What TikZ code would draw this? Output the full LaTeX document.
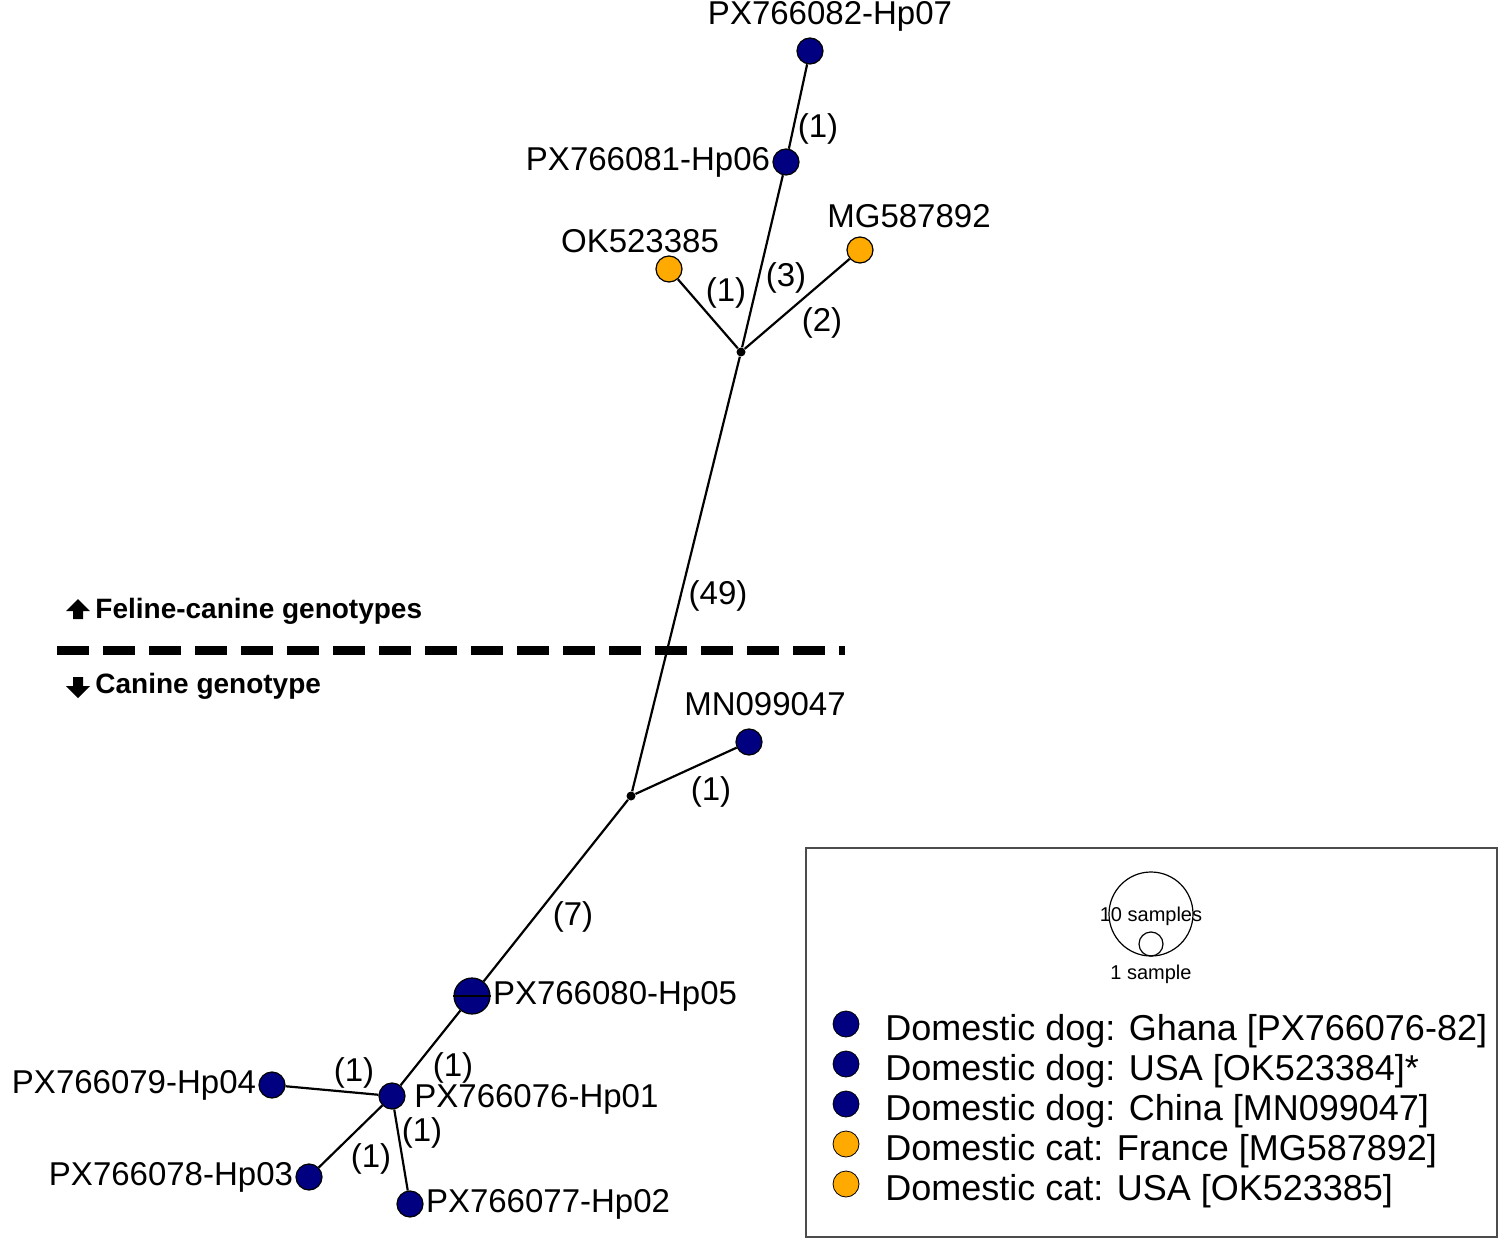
\documentclass[tikz,border=0pt]{standalone}
\usepackage{fontspec}
\setmainfont{Liberation Sans}
\definecolor{navy}{RGB}{0,0,128}
\definecolor{amber}{RGB}{255,170,0}
\begin{document}
\begin{tikzpicture}[x=0.5pt,y=-0.5pt,
  dog/.style={circle,draw=black,fill=navy,minimum size=13pt,inner sep=0pt,line width=0.6pt},
  cat/.style={circle,draw=black,fill=amber,minimum size=13pt,inner sep=0pt,line width=0.6pt},
  mv/.style={circle,fill=black,minimum size=4.5pt,inner sep=0pt},
  lab/.style={font=\fontsize{16.5}{18}\selectfont,inner sep=1pt},
  ed/.style={line width=1.1pt},
  gt/.style={font=\fontsize{14}{16}\selectfont\bfseries,anchor=west,inner sep=0pt}]
\useasboundingbox (0,0) rectangle (1500,1241);
% nodes
\node[mv] (j1) at (741,352) {};
\node[mv] (j2) at (631,796) {};
\node[dog] (h7) at (810,51) {};
\node[dog] (h6) at (786,162) {};
\node[cat] (ok) at (669,269) {};
\node[cat] (mg) at (860,250) {};
\node[dog] (mn) at (749,742) {};
\node[dog,minimum size=18pt] (h5) at (472,996) {};
\node[dog] (h1) at (392,1096) {};
\node[dog] (h4) at (272,1085) {};
\node[dog] (h3) at (309,1177) {};
\node[dog] (h2) at (410,1204) {};
% edges
\draw[ed] (h7)--(h6); \draw[ed] (h6)--(j1); \draw[ed] (ok)--(j1); \draw[ed] (mg)--(j1);
\draw[ed] (j1)--(j2); \draw[ed] (j2)--(mn); \draw[ed] (j2)--(h5); \draw[ed] (h5)--(h1);
\draw[ed] (h1)--(h4); \draw[ed] (h1)--(h3); \draw[ed] (h1)--(h2);
\draw[line width=0.9pt] (h5.west)--(h5.east);
% labels
\node[lab] (l7) at (830,16) {PX766082-Hp07};
\node[lab,anchor=east] (l6) at (h6.west) {PX766081-Hp06};
\node[lab] (lok) at (640,241) {OK523385};
\node[lab] (lmg) at (909,216) {MG587892};
\node[lab] (lmn) at (765,704) {MN099047};
\node[lab,anchor=west] (l5) at (h5.east) {PX766080-Hp05};
\node[lab,anchor=west] (l1) at (412,1099) {PX766076-Hp01};
\node[lab,anchor=east] (l4) at (h4.west) {PX766079-Hp04};
\node[lab,anchor=east] (l3) at (h3.west) {PX766078-Hp03};
\node[lab,anchor=west] (l2) at (h2.east) {PX766077-Hp02};
% edge counts
\node[lab] (c1) at (818,129) {(1)};
\node[lab] (c2) at (726,293) {(1)};
\node[lab] (c3) at (786,278) {(3)};
\node[lab] (c4) at (822,323) {(2)};
\node[lab] (c5) at (718,596) {(49)};
\node[lab] (c6) at (711,792) {(1)};
\node[lab] (c7) at (573,917) {(7)};
\node[lab] (c8) at (354,1073) {(1)};
\node[lab] (c9) at (453,1068) {(1)};
\node[lab] (c10) at (422,1133) {(1)};
\node[lab] (c11) at (371,1159) {(1)};
% divider
\draw[line width=4.5pt,dash pattern=on 16pt off 7pt] (57,650)--(845,650);
\fill (78,599)--(66,611)--(73,611)--(73,619)--(83,619)--(83,611)--(90,611)--cycle;
\node[gt] (fg) at (95,611) {Feline-canine genotypes};
\fill (78,698)--(66,686)--(73,686)--(73,677)--(83,677)--(83,686)--(90,686)--cycle;
\node[gt] (cg) at (95,686) {Canine genotype};
% legend
\draw[line width=0.8pt,draw=black!70] (806,848) rectangle (1497,1237);
\draw[line width=0.6pt] (1151,914) circle (42);
\draw[line width=0.6pt] (1151,944) circle (12);
\node[font=\fontsize{10}{12}\selectfont] (ls10) at (1151,916) {10 samples};
\node[font=\fontsize{10}{12}\selectfont] (ls1) at (1151,974) {1 sample};
\foreach \y/\c/\t [count=\i] in {1024/navy/{Domestic dog: Ghana [PX766076-82]},1064/navy/{Domestic dog: USA [OK523384]*},1104/navy/{Domestic dog: China [MN099047]},1144/amber/{Domestic cat: France [MG587892]},1184/amber/{Domestic cat: USA [OK523385]}}{
  \node[circle,draw=black,fill=\c,minimum size=13pt,inner sep=0pt] (lg\i) at (846,\y) {};
  \node[anchor=west,font=\fontsize{18}{20}\selectfont,inner sep=0pt] (lt\i) at (885,\y+7) {\t};
}
\end{tikzpicture}
\end{document}
